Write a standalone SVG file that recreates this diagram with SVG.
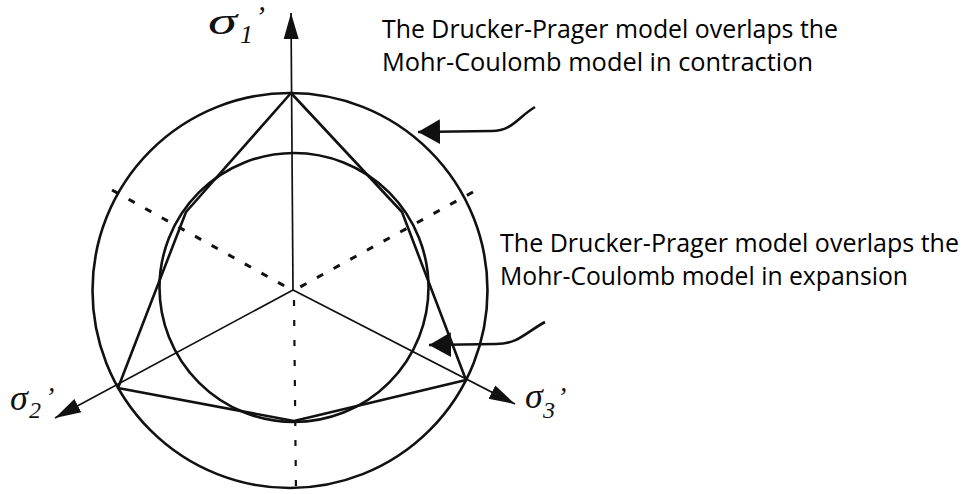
<svg xmlns="http://www.w3.org/2000/svg" width="968" height="494" viewBox="0 0 968 494">
  <style>
    .bold { fill: none; stroke: #111; stroke-width: 2.6; stroke-linejoin: round; }
    .thin { fill: none; stroke: #111; stroke-width: 1.7; }
    .dash { fill: none; stroke: #111; stroke-width: 3; stroke-dasharray: 7 12; }
    .dashv { fill: none; stroke: #111; stroke-width: 2.2; stroke-dasharray: 6 14; }
    .note { font-family: "Open Sans", "Noto Sans", "Liberation Sans", sans-serif; font-size: 25px; fill: #000; }
    .sym { font-family: "Liberation Serif", "DejaVu Serif", serif; font-style: italic; fill: #111; }
  </style>
  <defs>
    <marker id="axisArrow" markerUnits="userSpaceOnUse" markerWidth="27" markerHeight="18" viewBox="0 -9 27 18" refX="26" refY="0" orient="auto">
      <path d="M0,-7.5 L26,0 L0,7.5 Z" fill="#111"/>
    </marker>
    <marker id="bigArrow" markerUnits="userSpaceOnUse" markerWidth="23" markerHeight="27" viewBox="0 -13.5 23 27" refX="22" refY="0" orient="auto">
      <path d="M0,-12.5 L22,0 L0,12.5 Z" fill="#111"/>
    </marker>
  </defs>
  <rect width="968" height="494" fill="#fff"/>

  <g id="axes">
    <line class="thin" x1="293" y1="290" x2="291" y2="13" marker-end="url(#axisArrow)"/>
    <line class="thin" x1="293" y1="290" x2="55" y2="418" marker-end="url(#axisArrow)"/>
    <line class="thin" x1="293" y1="290" x2="515" y2="404" marker-end="url(#axisArrow)"/>
    <line class="dash" x1="112" y1="190" x2="290" y2="289"/>
    <line class="dash" x1="473" y1="192" x2="300" y2="287"/>
    <line class="dashv" x1="294" y1="300" x2="296" y2="494"/>
  </g>

  <g id="outer-circle">
    <circle class="bold" cx="290" cy="290.5" r="197.5"/>
  </g>
  <g id="drucker-prager-circle">
    <circle class="bold" cx="294" cy="287.5" r="134.5"/>
  </g>
  <g id="mohr-coulomb-hexagon">
    <path class="bold" d="M291,93 L186,212 L118,388 L294,421 L466,380 L402,212 Z"/>
  </g>

  <g id="axis-labels">
    <text class="sym" x="208" y="34" font-size="38" textLength="29" lengthAdjust="spacingAndGlyphs">σ</text>
    <text class="sym" x="240" y="43" font-size="26">1</text>
    <text class="sym" x="255" y="26" font-size="30">’</text>
    <text class="sym" x="10" y="410" font-size="36">σ</text>
    <text class="sym" x="29" y="418" font-size="24" font-style="normal">2</text>
    <text class="sym" x="45" y="406" font-size="28">’</text>
    <text class="sym" x="525" y="408" font-size="36">σ</text>
    <text class="sym" x="543" y="418" font-size="24" font-style="normal">3</text>
    <text class="sym" x="557" y="406" font-size="28">’</text>
  </g>

  <g id="note-contraction">
    <text class="note" x="382" y="38" textLength="456" lengthAdjust="spacingAndGlyphs">The Drucker-Prager model overlaps the</text>
    <text class="note" x="382" y="71" textLength="431" lengthAdjust="spacingAndGlyphs">Mohr-Coulomb model in contraction</text>
  </g>
  <g id="note-expansion">
    <text class="note" x="500" y="252" textLength="459" lengthAdjust="spacingAndGlyphs">The Drucker-Prager model overlaps the</text>
    <text class="note" x="500" y="285" textLength="408" lengthAdjust="spacingAndGlyphs">Mohr-Coulomb model in expansion</text>
  </g>

  <g id="connectors">
    <path class="bold" d="M535,107 C518,117 512,131 492,131 L418,132" marker-end="url(#bigArrow)"/>
    <path class="bold" d="M545,322 C525,333 518,344 496,344 L429,345" marker-end="url(#bigArrow)"/>
  </g>
</svg>
